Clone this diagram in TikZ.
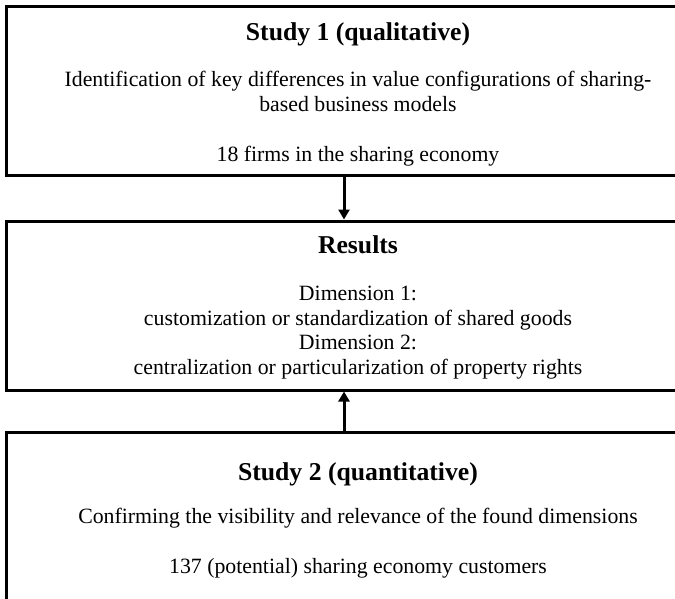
\documentclass[tikz,border=0pt]{standalone}
\usepackage{fontspec}
\setmainfont{Liberation Serif}
\usetikzlibrary{arrows.meta}
\tikzset{
  box/.style={draw, line width=3pt, minimum width=704pt, minimum height=169pt, inner sep=0pt},
  head/.style={anchor=base, inner sep=0pt, font=\fontsize{25.7}{29}\selectfont\bfseries},
  txt/.style={anchor=base, inner sep=0pt, font=\fontsize{21.8}{25.3}\selectfont},
}
\begin{document}
\begin{tikzpicture}[x=1pt, y=-1pt, >={Triangle[length=10pt,width=11pt]}]
\useasboundingbox (0,0) rectangle (675,599);
\node[box] (st1) at (358,91.5) {};
\node[box] (res) at (358,305.5) {};
\node[box] (st2) at (358,516.5) {};
\coordinate (ax) at (344,0);

\node[head] (st1h) at (358,41) {Study 1 (qualitative)};
\node[txt] (st1a) at (358,87) {Identification of key differences in value configurations of sharing-};
\node[txt] (st1b) at (358,112) {based business models};
\node[txt] (st1c) at (358,162) {18 firms in the sharing economy};

\node[head] (resh) at (358,253) {Results};
\node[txt] (resa) at (358,300) {Dimension 1:};
\node[txt] (resb) at (358,325) {customization or standardization of shared goods};
\node[txt] (resc) at (358,349) {Dimension 2:};
\node[txt] (resd) at (358,374) {centralization or particularization of property rights};

\node[head] (st2h) at (358,480) {Study 2 (quantitative)};
\node[txt] (st2a) at (358,523) {Confirming the visibility and relevance of the found dimensions};
\node[txt] (st2b) at (358,573) {137 (potential) sharing economy customers};

\draw[->, line width=3pt] (st1.south -| ax) -- (res.north -| ax);
\draw[->, line width=3pt] (st2.north -| ax) -- (res.south -| ax);
\end{tikzpicture}
\end{document}
